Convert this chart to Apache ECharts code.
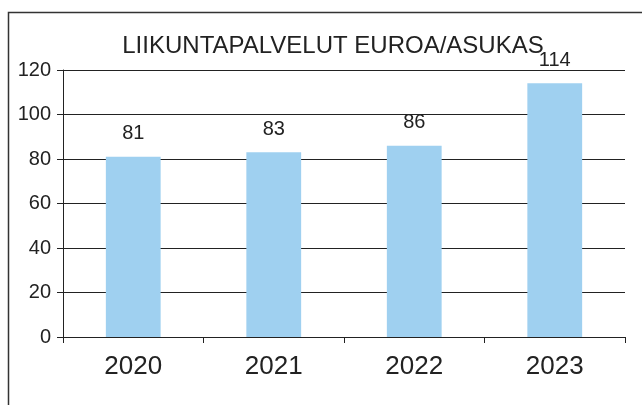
<!DOCTYPE html>
<html>
<head>
<meta charset="utf-8">
<script src="https://cdn.jsdelivr.net/npm/echarts@6/dist/echarts.min.js"></script>
<style>
  html, body { margin: 0; padding: 0; background: #fff; }
  #chart { width: 642px; height: 405px; }
</style>
</head>
<body>
<div id="chart"></div>
<script>
const years = ['2020', '2021', '2022', '2023']
const costs = [81, 83, 86, 114]
const yTicks = { min: 0, max: 120, interval: 20 }

const ink = '#222'
const font = '"Liberation Sans", Arial, sans-serif'

const chart = echarts.init(document.getElementById('chart'))
chart.setOption({
  backgroundColor: '#fff',
  animation: false,
  textStyle: { fontFamily: font },
  graphic: [{
    type: 'rect',
    shape: { x: 8.5, y: 12.5, width: 700, height: 500 },
    style: { fill: 'none', stroke: '#333', lineWidth: 1.5 },
    silent: true
  }],
  title: {
    text: 'LIIKUNTAPALVELUT EUROA/ASUKAS',
    left: 328,
    textAlign: 'center',
    top: 29,
    textStyle: { fontFamily: font, fontSize: 24, fontWeight: 'normal', color: ink }
  },
  grid: { left: 63, right: 17, top: 70, bottom: 68 },
  xAxis: {
    type: 'category',
    data: years,
    axisLine: { lineStyle: { color: ink, width: 1 } },
    axisTick: { show: true, length: 6, lineStyle: { color: ink } },
    axisLabel: { fontSize: 26, color: ink, margin: 17, fontFamily: font }
  },
  yAxis: {
    type: 'value',
    min: yTicks.min,
    max: yTicks.max,
    interval: yTicks.interval,
    axisLine: { show: true, lineStyle: { color: ink, width: 1 } },
    axisTick: { show: true, length: 6, lineStyle: { color: ink } },
    axisLabel: { fontSize: 20, color: ink, margin: 12, fontFamily: font },
    splitLine: { lineStyle: { color: ink, width: 1 } }
  },
  series: [{
    type: 'bar',
    data: costs,
    barWidth: '39%',
    itemStyle: { color: '#9fd0f0' },
    label: {
      show: true,
      position: 'top',
      distance: 13,
      fontSize: 20,
      color: ink,
      fontFamily: font
    }
  }]
})
</script>
</body>
</html>
